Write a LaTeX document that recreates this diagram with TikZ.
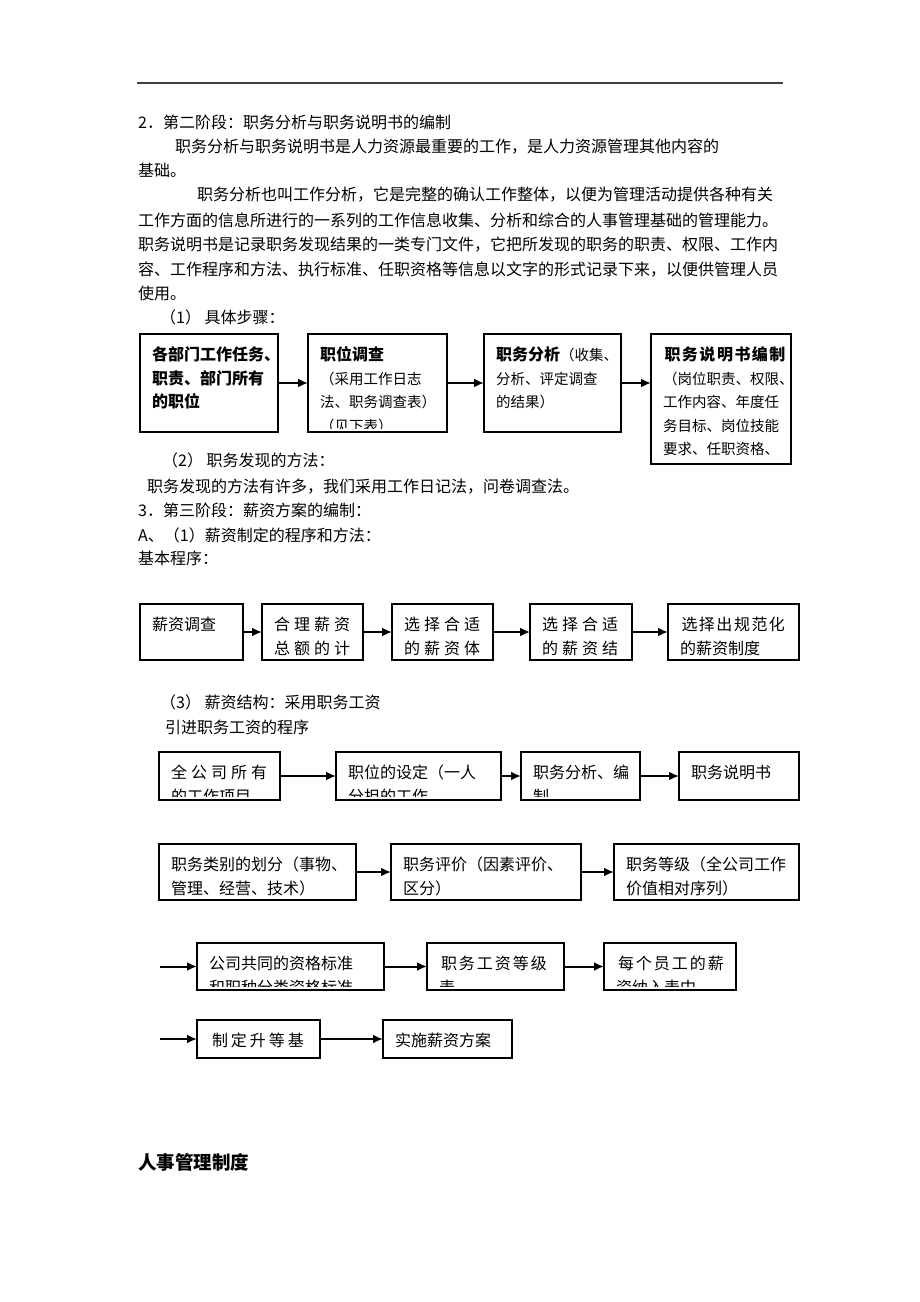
\documentclass[tikz,border=0pt]{standalone}
\usepackage{fontspec}
\setmainfont{Noto Sans CJK SC}
\usetikzlibrary{positioning}
\usetikzlibrary{arrows.meta}

\newcommand\bodyfont{\fontsize{16pt}{25pt}\selectfont}
\newcommand\boxfont{\fontsize{16pt}{24pt}\selectfont}
\newcommand\smallboxfont{\fontsize{14.5pt}{23.5pt}\selectfont}
\newcommand\boxhead[1]{{\bfseries\fontsize{16pt}{23.5pt}\selectfont #1}}
\newcommand\wide[1][4pt]{\spaceskip=#1\relax}

\tikzset{
  para/.style={anchor=west, inner sep=0pt, font=\bodyfont},
  box/.style={draw, line width=1.5pt, rectangle, inner sep=0pt, outer sep=0pt, anchor=north west},
  box text/.style={font=\boxfont},
  inbox/.style={path picture={
      \clip (path picture bounding box.north west) rectangle ([yshift=4pt]path picture bounding box.south east);
      \node[anchor=north west, inner sep=0pt, draw=none,
        minimum width=0pt, minimum height=0pt, align=left, box text]
      at ([shift={(12pt,-13pt)}]path picture bounding box.north west) {#1};}},
  arr/.style={->, >={Latex[length=10pt,width=9pt]}, line width=2pt}
}

\begin{document}
\begin{tikzpicture}[x=1pt, y=-1pt]
  \useasboundingbox (0,0) rectangle (920,1302);
  \draw[line width=1.2pt, black!75] (137,83) -- (783,83);

  % stage 2
  \node (t1) [para] at (138,122) {2．第二阶段：职务分析与职务说明书的编制};
  \node (t2) [para] at (175,147) {职务分析与职务说明书是人力资源最重要的工作，是人力资源管理其他内容的};
  \node (t3) [para] at (138,170) {基础。};
  \node (t4) [para] at (197,195) {职务分析也叫工作分析，它是完整的确认工作整体，以便为管理活动提供各种有关};
  \node (t5) [para] at (138,220) {工作方面的信息所进行的一系列的工作信息收集、分析和综合的人事管理基础的管理能力。};
  \node (t6) [para] at (138,245) {职务说明书是记录职务发现结果的一类专门文件，它把所发现的职务的职责、权限、工作内};
  \node (t7) [para] at (138,270) {容、工作程序和方法、执行标准、任职资格等信息以文字的形式记录下来，以便供管理人员};
  \node (t8) [para] at (138,293) {使用。};
  \node (t9) [para] at (160,317) {（1） 具体步骤：};

  \begin{scope}[box text/.style={font=\smallboxfont}]
  \node (s1) [box, minimum width=138pt, minimum height=98pt,
    inbox={\boxhead{各部门工作任务、}\\\boxhead{职责、部门所有}\\\boxhead{的职位}}] at (140,334) {};
  \node (s2) [box, right=30pt of s1, minimum width=139pt, minimum height=98pt,
    inbox={\boxhead{职位调查}\\（采用工作日志\\法、职务调查表）\\（见下表）}] {};
  \node (s3) [box, right=37pt of s2, minimum width=137pt, minimum height=98pt,
    inbox={\boxhead{职务分析}（收集、\\分析、评定调查\\的结果）}] {};
  \node (s4) [box, right=30pt of s3.north east, anchor=north west, minimum width=140pt, minimum height=130pt,
    inbox={\boxhead{\wide[1.5pt] 职 务 说 明 书 编 制}\\（岗位职责、权限、\\工作内容、年度任\\务目标、岗位技能\\要求、任职资格、}] {};
  \end{scope}
  \draw[arr] (s1) -- (s2);
  \draw[arr] (s2) -- (s3);
  \draw[arr] (s3.east) -- (s3.east -| s4.west);

  \node (t10) [para] at (162,460) {（2） 职务发现的方法：};
  \node (t11) [para] at (147,487) {职务发现的方法有许多，我们采用工作日记法，问卷调查法。};

  % stage 3
  \node (t12) [para] at (138,510) {3．第三阶段：薪资方案的编制：};
  \node (t13) [para] at (138,535) {A、（1）薪资制定的程序和方法：};
  \node (t14) [para] at (138,558) {基本程序：};

  \node (p1) [box, minimum width=103pt, minimum height=56pt, inbox={薪资调查}] at (140,604) {};
  \node (p2) [box, right=19pt of p1, minimum width=101pt, minimum height=56pt,
    inbox={\wide 合 理 薪 资\\\wide 总 额 的 计}] {};
  \node (p3) [box, right=29pt of p2, minimum width=101pt, minimum height=56pt,
    inbox={\wide 选 择 合 适\\\wide 的 薪 资 体}] {};
  \node (p4) [box, right=37pt of p3, minimum width=102pt, minimum height=56pt,
    inbox={\wide 选 择 合 适\\\wide 的 薪 资 结}] {};
  \node (p5) [box, right=36pt of p4, minimum width=131pt, minimum height=56pt,
    inbox={\wide[1.5pt] 选 择 出 规 范 化\\的薪资制度}] {};
  \draw[arr] (p1) -- (p2);
  \draw[arr] (p2) -- (p3);
  \draw[arr] (p3) -- (p4);
  \draw[arr] (p4) -- (p5);

  \node (t15) [para] at (160,702) {（3） 薪资结构：采用职务工资};
  \node (t16) [para] at (165,727) {引进职务工资的程序};

  \node (q1) [box, minimum width=121pt, minimum height=48pt,
    inbox={\wide 全 公 司 所 有\\的工作项目}] at (159,752) {};
  \node (q2) [box, right=56pt of q1, minimum width=165pt, minimum height=48pt,
    inbox={职位的设定（一人\\分担的工作}] {};
  \node (q3) [box, right=20pt of q2, minimum width=119pt, minimum height=48pt,
    inbox={职务分析、编\\制}] {};
  \node (q4) [box, right=39pt of q3, minimum width=120pt, minimum height=48pt,
    inbox={职务说明书}] {};
  \draw[arr] (q1) -- (q2);
  \draw[arr] (q2) -- (q3);
  \draw[arr] (q3) -- (q4);

  \node (r1) [box, minimum width=197pt, minimum height=56pt,
    inbox={职务类别的划分（事物、\\管理、经营、技术）}] at (159,844) {};
  \node (r2) [box, right=35pt of r1, minimum width=190pt, minimum height=56pt,
    inbox={职务评价（因素评价、\\区分）}] {};
  \node (r3) [box, right=33pt of r2, minimum width=185pt, minimum height=56pt,
    inbox={职务等级（全公司工作\\价值相对序列）}] {};
  \draw[arr] (r1) -- (r2);
  \draw[arr] (r2) -- (r3);

  \node (u1) [box, minimum width=187pt, minimum height=47pt,
    inbox={公司共同的资格标准\\和职种分类资格标准}] at (197,943) {};
  \node (u2) [box, right=43pt of u1, minimum width=137pt, minimum height=47pt,
    inbox={\wide[2pt] 职 务 工 资 等 级\\表}] {};
  \node (u3) [box, right=40pt of u2, minimum width=132pt, minimum height=47pt,
    inbox={\wide[2pt] 每 个 员 工 的 薪\\资纳入表中}] {};
  \coordinate (u0) at ([xshift=-37pt]u1.west);
  \draw[arr] (u0) -- (u1);
  \draw[arr] (u1) -- (u2);
  \draw[arr] (u2) -- (u3);

  \node (v1) [box, minimum width=123pt, minimum height=38pt,
    inbox={\wide[3pt] 制 定 升 等 基}] at (197,1020) {};
  \node (v2) [box, right=63pt of v1, minimum width=129pt, minimum height=38pt,
    inbox={实施薪资方案}] {};
  \coordinate (v0) at ([xshift=-37pt]v1.west);
  \draw[arr] (v0) -- (v1);
  \draw[arr] (v1) -- (v2);

  \node (h1) [para, font=\bfseries\fontsize{18.5pt}{20pt}\selectfont] at (138,1162) {人事管理制度};
\end{tikzpicture}
\end{document}
